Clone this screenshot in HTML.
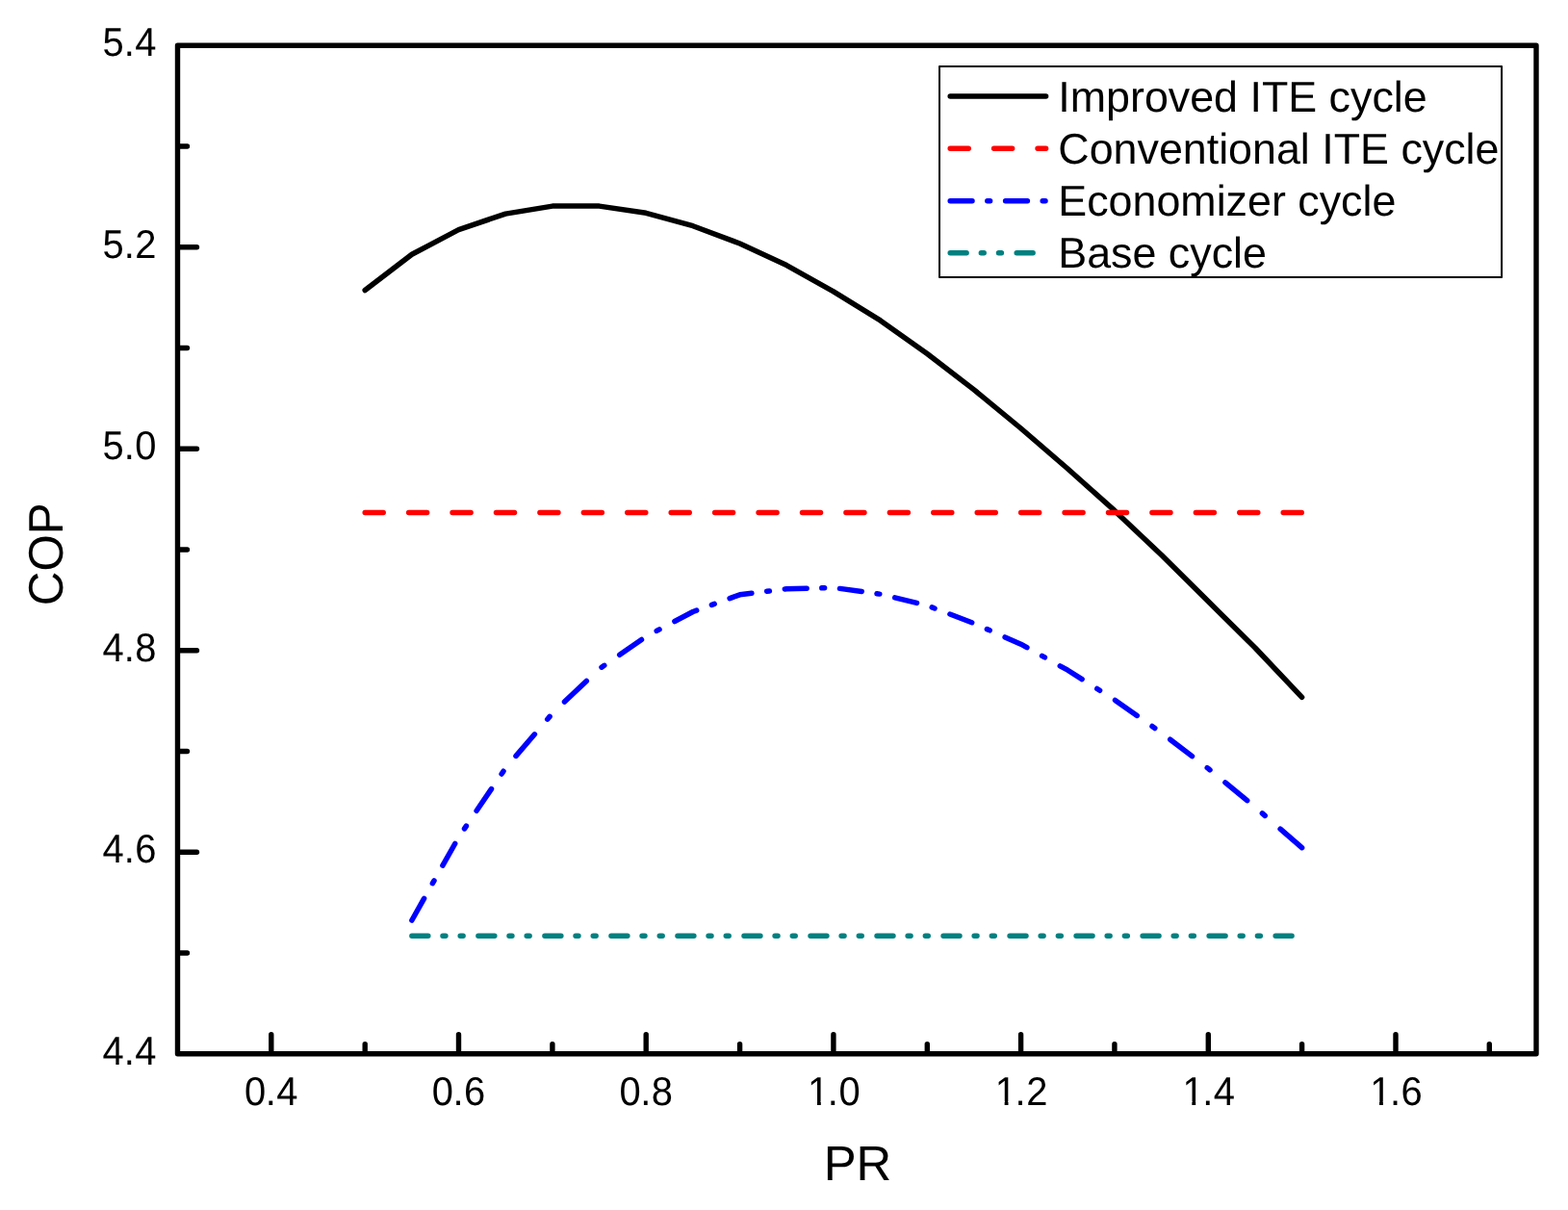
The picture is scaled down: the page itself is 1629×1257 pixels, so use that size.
<!DOCTYPE html>
<html lang="en"><head><meta charset="utf-8"><title>COP vs PR</title>
<style>
html,body{margin:0;padding:0;background:#fff;}
body{width:1629px;height:1257px;overflow:hidden;}
svg{display:block;}
text{font-family:"Liberation Sans",sans-serif;fill:#000;text-rendering:geometricPrecision;}
.tick{font-size:39.9px;}
.title{font-size:49.6px;}
.leg{font-size:44.8px;}
</style></head><body>
<svg width="1629" height="1257" viewBox="0 0 1629 1257" role="img" aria-label="COP versus PR for four refrigeration cycles">
<rect x="0" y="0" width="1629" height="1257" fill="#fff"/>
<rect x="184.5" y="47.2" width="1411.5" height="1047.5" fill="none" stroke="#000" stroke-width="5.4" stroke-linejoin="round"/>
<g stroke="#000" stroke-width="5.4" stroke-linecap="round" fill="none">
<line x1="281.8" y1="1093.7" x2="281.8" y2="1074.7"/>
<line x1="476.5" y1="1093.7" x2="476.5" y2="1074.7"/>
<line x1="671.2" y1="1093.7" x2="671.2" y2="1074.7"/>
<line x1="865.9" y1="1093.7" x2="865.9" y2="1074.7"/>
<line x1="1060.6" y1="1093.7" x2="1060.6" y2="1074.7"/>
<line x1="1255.3" y1="1093.7" x2="1255.3" y2="1074.7"/>
<line x1="1450.0" y1="1093.7" x2="1450.0" y2="1074.7"/>
<line x1="379.2" y1="1093.7" x2="379.2" y2="1084.7"/>
<line x1="573.9" y1="1093.7" x2="573.9" y2="1084.7"/>
<line x1="768.6" y1="1093.7" x2="768.6" y2="1084.7"/>
<line x1="963.3" y1="1093.7" x2="963.3" y2="1084.7"/>
<line x1="1157.9" y1="1093.7" x2="1157.9" y2="1084.7"/>
<line x1="1352.6" y1="1093.7" x2="1352.6" y2="1084.7"/>
<line x1="1547.3" y1="1093.7" x2="1547.3" y2="1084.7"/>
<line x1="185.5" y1="885.2" x2="204.5" y2="885.2"/>
<line x1="185.5" y1="675.7" x2="204.5" y2="675.7"/>
<line x1="185.5" y1="466.2" x2="204.5" y2="466.2"/>
<line x1="185.5" y1="256.7" x2="204.5" y2="256.7"/>
<line x1="185.5" y1="990.0" x2="194.5" y2="990.0"/>
<line x1="185.5" y1="780.5" x2="194.5" y2="780.5"/>
<line x1="185.5" y1="571.0" x2="194.5" y2="571.0"/>
<line x1="185.5" y1="361.5" x2="194.5" y2="361.5"/>
<line x1="185.5" y1="152.0" x2="194.5" y2="152.0"/>
</g>
<defs>
<clipPath id="nf10" clipPathUnits="userSpaceOnUse"><rect x="834.18" y="1102.90" width="63.46" height="41.10"/><rect x="848.97" y="1143" width="3.83" height="5.90"/><rect x="861.37" y="1143" width="55.46" height="14"/></clipPath>
<clipPath id="nf12" clipPathUnits="userSpaceOnUse"><rect x="1028.87" y="1102.90" width="63.46" height="41.10"/><rect x="1043.66" y="1143" width="3.83" height="5.90"/><rect x="1056.06" y="1143" width="55.46" height="14"/></clipPath>
<clipPath id="nf14" clipPathUnits="userSpaceOnUse"><rect x="1223.56" y="1102.90" width="63.46" height="41.10"/><rect x="1238.35" y="1143" width="3.83" height="5.90"/><rect x="1250.75" y="1143" width="55.46" height="14"/></clipPath>
<clipPath id="nf16" clipPathUnits="userSpaceOnUse"><rect x="1418.25" y="1102.90" width="63.46" height="41.10"/><rect x="1433.04" y="1143" width="3.83" height="5.90"/><rect x="1445.44" y="1143" width="55.46" height="14"/></clipPath>
</defs>
<g class="tick">
<text x="-27.73 -6.05 5.55" transform="translate(281.8,1147.9) scale(1,1.045)">0.4</text>
<text x="-27.73 -6.05 5.55" transform="translate(476.5,1147.9) scale(1,1.045)">0.6</text>
<text x="-27.73 -6.05 5.55" transform="translate(671.2,1147.9) scale(1,1.045)">0.8</text>
<g clip-path="url(#nf10)"><text x="-26.83 -6.05 5.55" transform="translate(865.9,1147.9) scale(1,1.045)">1.0</text></g>
<g clip-path="url(#nf12)"><text x="-26.83 -6.05 5.55" transform="translate(1060.6,1147.9) scale(1,1.045)">1.2</text></g>
<g clip-path="url(#nf14)"><text x="-26.83 -6.05 5.55" transform="translate(1255.3,1147.9) scale(1,1.045)">1.4</text></g>
<g clip-path="url(#nf16)"><text x="-26.83 -6.05 5.55" transform="translate(1450.0,1147.9) scale(1,1.045)">1.6</text></g>
<text x="-55.16 -32.88 -21.38" transform="translate(161.7,1105.9) scale(1,1.045)">4.4</text>
<text x="-55.16 -32.88 -21.38" transform="translate(161.7,896.4) scale(1,1.045)">4.6</text>
<text x="-55.16 -32.88 -21.38" transform="translate(161.7,686.9) scale(1,1.045)">4.8</text>
<text x="-55.16 -32.88 -21.38" transform="translate(161.7,477.4) scale(1,1.045)">5.0</text>
<text x="-55.16 -32.88 -21.38" transform="translate(161.7,267.9) scale(1,1.045)">5.2</text>
<text x="-55.16 -32.88 -21.38" transform="translate(161.7,58.4) scale(1,1.045)">5.4</text>
</g>
<text class="title" text-anchor="middle" transform="translate(891.0,1225.8) scale(1.024,1.026)">PR</text>
<text class="title" text-anchor="middle" transform="translate(65.2,575.7) rotate(-90) scale(0.996,1.017)">COP</text>
<g fill="none" stroke-width="5.5" stroke-linecap="round" stroke-linejoin="round">
<polyline stroke="#000" points="379.2,301.5 427.9,264.3 476.5,238.6 525.2,222.1 573.9,214.1 622.6,214.1 671.2,221.3 719.9,234.7 768.6,253.0 817.2,275.6 865.9,302.8 914.6,332.9 963.3,367.5 1011.9,404.9 1060.6,445.0 1109.3,487.0 1157.9,530.4 1206.6,576.5 1255.3,624.8 1304.0,673.0 1352.6,724.3"/>
<line stroke="#f00" stroke-dasharray="19.0 26.43" x1="379.2" y1="532.5" x2="1352.6" y2="532.5"/>
<path stroke="#00f" d="M427.9,956.0L440.6,933.3 M449.4,917.7L451.0,914.9 M459.9,899.1L472.7,876.5 M482.5,860.9L484.4,858.1 M495.1,842.3L510.5,819.6 M521.1,804.0L523.0,801.2 M536.0,785.4L555.4,762.8 M568.7,747.2L571.1,744.4 M586.5,729.1L609.3,707.5 M625.0,693.2L627.8,691.3 M643.7,680.3L666.5,664.5 M682.2,655.4L685.0,653.9 M700.9,645.5L719.9,635.5L723.7,634.1 M739.4,628.4L742.2,627.4 M758.1,621.6L768.6,617.8L780.9,616.3 M796.6,614.3L799.4,614.0 M815.3,612.0L817.2,611.8L838.1,611.2 M853.8,610.8L856.6,610.7 M872.5,611.4L895.3,614.5 M911.0,616.7L913.8,617.1 M929.7,620.9L952.5,626.4 M968.2,630.9L971.0,632.0 M986.9,638.0L1009.7,646.7 M1025.4,653.6L1028.2,654.8 M1044.1,661.9L1060.6,669.2L1066.9,672.7 M1082.6,681.4L1085.4,682.9 M1101.3,691.8L1109.3,696.2L1124.1,705.6 M1139.8,715.5L1142.6,717.3 M1158.5,727.4L1181.3,743.4 M1197.0,754.5L1199.8,756.5 M1215.7,768.2L1238.5,785.6 M1254.2,797.6L1255.3,798.4L1257.0,799.8 M1272.9,812.9L1295.7,831.7 M1311.4,844.9L1314.2,847.4 M1330.1,861.2L1352.6,880.7"/>
<line stroke="#008080" stroke-dasharray="16.9 15.2 2.9 15.3 2.9 15.82" x1="427.9" y1="972.2" x2="1352.6" y2="972.2"/>
</g>
<rect x="976.0" y="69.1" width="584.1" height="218.85" fill="#fff" stroke="#000" stroke-width="2" stroke-linejoin="round"/>
<g fill="none" stroke-width="5.5" stroke-linecap="round">
<line stroke="#000" x1="987.2" y1="100.0" x2="1086.6" y2="100.0"/>
<line stroke="#f00" stroke-dasharray="19.0 26.43" x1="987.2" y1="154.3" x2="1086.6" y2="154.3"/>
<line stroke="#00f" stroke-dasharray="22.8 15.8 2.8 16.0" x1="987.2" y1="208.8" x2="1086.6" y2="208.8"/>
<line stroke="#008080" stroke-dasharray="16.9 15.2 2.9 15.3 2.9 15.82" x1="987.2" y1="262.7" x2="1086.6" y2="262.7"/>
</g>
<g class="leg">
<text transform="translate(1099.3,115.8) scale(1,1.0)">Improved ITE cycle</text>
<text transform="translate(1099.3,170.0) scale(1,1.0)">Conventional ITE cycle</text>
<text transform="translate(1099.3,224.2) scale(1,1.0)">Economizer cycle</text>
<text transform="translate(1099.3,278.4) scale(1,1.0)">Base cycle</text>
</g>
</svg>
</body></html>
